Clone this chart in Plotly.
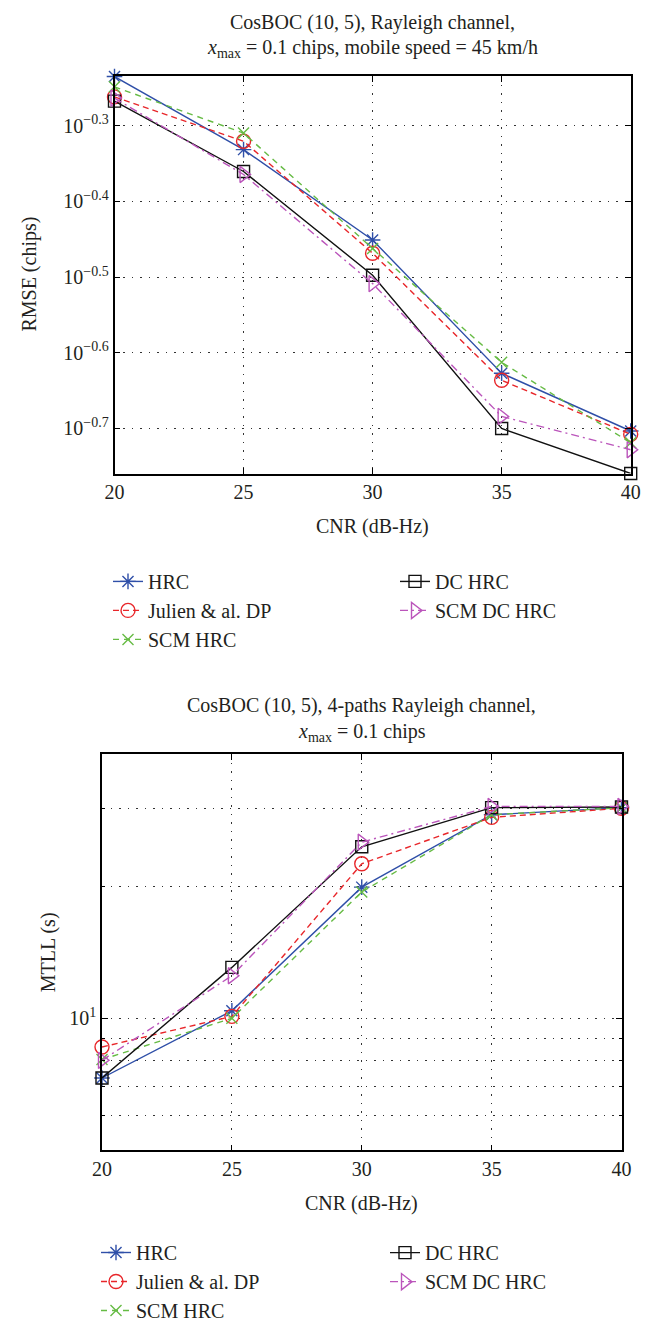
import plotly.graph_objects as go

# CNR values (dB-Hz)
cnr = [20, 25, 30, 35, 40]

# top panel: RMSE (chips), Rayleigh channel, 45 km/h
rmse_hrc = [0.582, 0.466, 0.354, 0.236, 0.198]
rmse_julien = [0.547, 0.478, 0.340, 0.231, 0.196]
rmse_scm_hrc = [0.564, 0.490, 0.345, 0.244, 0.191]
rmse_dc_hrc = [0.540, 0.436, 0.318, 0.1995, 0.174]
rmse_scm_dc_hrc = [0.545, 0.432, 0.310, 0.207, 0.187]

# bottom panel: MTLL (s), 4-paths Rayleigh channel
mtll_hrc = [7.31, 10.4, 19.9, 29.1, 30.2]
mtll_julien = [8.6, 10.1, 22.5, 28.7, 30.1]
mtll_scm_hrc = [8.05, 10.0, 19.4, 29.1, 30.2]
mtll_dc_hrc = [7.31, 13.06, 24.6, 30.2, 30.3]
mtll_scm_dc_hrc = [8.02, 12.5, 25.2, 30.4, 30.4]

names = ["HRC", "Julien & al. DP", "SCM HRC", "DC HRC", "SCM DC HRC"]
rmse_top = [rmse_hrc, rmse_julien, rmse_scm_hrc, rmse_dc_hrc, rmse_scm_dc_hrc]
mtll_bot = [mtll_hrc, mtll_julien, mtll_scm_hrc, mtll_dc_hrc, mtll_scm_dc_hrc]

rmse_tickvals = [10 ** -0.3, 10 ** -0.4, 10 ** -0.5, 10 ** -0.6, 10 ** -0.7]
rmse_ticktext = ["10<sup>\u22120.3</sup>", "10<sup>\u22120.4</sup>", "10<sup>\u22120.5</sup>",
                 "10<sup>\u22120.6</sup>", "10<sup>\u22120.7</sup>"]
mtll_tickvals = [10]
mtll_ticktext = ["10<sup>1</sup>"]
mtll_minorvals = [5, 6, 7, 8, 9, 20, 30, 40]

FONT = "Liberation Serif"
TXT = "#231f20"
W, H = 654, 1322

# style per series: color, dash, marker symbol, marker size
styles = [
    ("#2f4fa8", "solid", "asterisk-open", 13),
    ("#e8262a", "6px,4px", "circle-open", 14),
    ("#66bb44", "6px,5px", "x-thin-open", 11),
    ("#111111", "solid", "square-open", 12),
    ("#bb55bb", "8px,4px,2px,4px", "triangle-right-open", 14),
]
legend_top = ["legend", "legend", "legend", "legend2", "legend2"]
legend_bot = ["legend3", "legend3", "legend3", "legend4", "legend4"]


def px_x(p):
    return p / W


def px_y(p):
    return 1 - p / H


fig = go.Figure()

for i, name in enumerate(names):
    color, dash, sym, size = styles[i]
    fig.add_trace(go.Scatter(
        x=cnr, y=rmse_top[i], name=name, mode="lines+markers",
        line=dict(color=color, width=1.4, dash=dash),
        marker=dict(symbol=sym, size=size, color=color, line=dict(width=1.4, color=color)),
        cliponaxis=False, legend=legend_top[i], xaxis="x", yaxis="y",
    ))
    fig.add_trace(go.Scatter(
        x=cnr, y=mtll_bot[i], name=name, mode="lines+markers",
        line=dict(color=color, width=1.4, dash=dash),
        marker=dict(symbol=sym, size=size, color=color, line=dict(width=1.4, color=color)),
        cliponaxis=False, legend=legend_bot[i], xaxis="x2", yaxis="y2",
    ))

GRID = dict(gridcolor="#333333", gridwidth=1, griddash="1.5px,7px")
axis_common = dict(
    showline=True, linecolor="black", linewidth=1.5, mirror="ticks",
    ticks="inside", ticklen=6, tickcolor="black", tickwidth=1,
    showgrid=True, zeroline=False,
    tickfont=dict(family=FONT, size=20, color=TXT),
    automargin=False, **GRID,
)

fig.update_layout(
    width=W, height=H,
    margin=dict(l=0, r=0, t=0, b=0),
    paper_bgcolor="white", plot_bgcolor="white",
    font=dict(family=FONT, size=20, color=TXT),
    xaxis=dict(axis_common, domain=[px_x(106.5), px_x(622.7)], anchor="y",
               range=[20, 40], tickvals=[20, 25, 30, 35, 40]),
    yaxis=dict(axis_common, domain=[px_y(472.3), px_y(69)], anchor="x",
               type="log", range=[-0.7595, -0.2344],
               tickvals=rmse_tickvals, ticktext=rmse_ticktext),
    xaxis2=dict(axis_common, domain=[px_x(94), px_x(613.5)], anchor="y2",
                range=[20, 40], tickvals=[20, 25, 30, 35, 40]),
    yaxis2=dict(axis_common, domain=[px_y(1159), px_y(757)], anchor="x2",
                type="log", range=[0.69897, 1.60206],
                tickvals=mtll_tickvals, ticktext=mtll_ticktext,
                minor=dict(tickvals=mtll_minorvals, ticks="inside", ticklen=3,
                           tickcolor="black", showgrid=True, **GRID)),
)

leg = dict(bgcolor="rgba(0,0,0,0)", borderwidth=0, tracegroupgap=0,
           font=dict(family=FONT, size=20, color=TXT),
           xanchor="left", yanchor="top", itemclick=False)
fig.update_layout(
    legend=dict(leg, x=px_x(100), y=px_y(562)),
    legend2=dict(leg, x=px_x(387), y=px_y(562)),
    legend3=dict(leg, x=px_x(88), y=px_y(1243)),
    legend4=dict(leg, x=px_x(377), y=px_y(1243)),
)

ann = [
    ("CosBOC (10, 5), Rayleigh channel,", 364.6, 15),
    ("<i>x</i><sub>max</sub> = 0.1 chips, mobile speed = 45 km/h", 364.6, 41),
    ("CNR (dB-Hz)", 364.6, 526),
    ("CosBOC (10, 5), 4-paths Rayleigh channel,", 353.8, 708),
    ("<i>x</i><sub>max</sub> = 0.1 chips", 353.8, 735),
    ("CNR (dB-Hz)", 353.8, 1213),
]
for text, xp, yp in ann:
    fig.add_annotation(text=text, x=px_x(xp), y=px_y(yp), xref="paper", yref="paper",
                       showarrow=False, xanchor="center", yanchor="middle",
                       font=dict(family=FONT, size=20, color=TXT))

fig.add_annotation(text="RMSE (chips)", x=px_x(22), y=px_y(270.5), xref="paper", yref="paper",
                   showarrow=False, textangle=-90, xanchor="center", yanchor="middle",
                   font=dict(family=FONT, size=20, color=TXT))
fig.add_annotation(text="MTLL (s)", x=px_x(40), y=px_y(958), xref="paper", yref="paper",
                   showarrow=False, textangle=-90, xanchor="center", yanchor="middle",
                   font=dict(family=FONT, size=20, color=TXT))

fig.write_html("out.html")
